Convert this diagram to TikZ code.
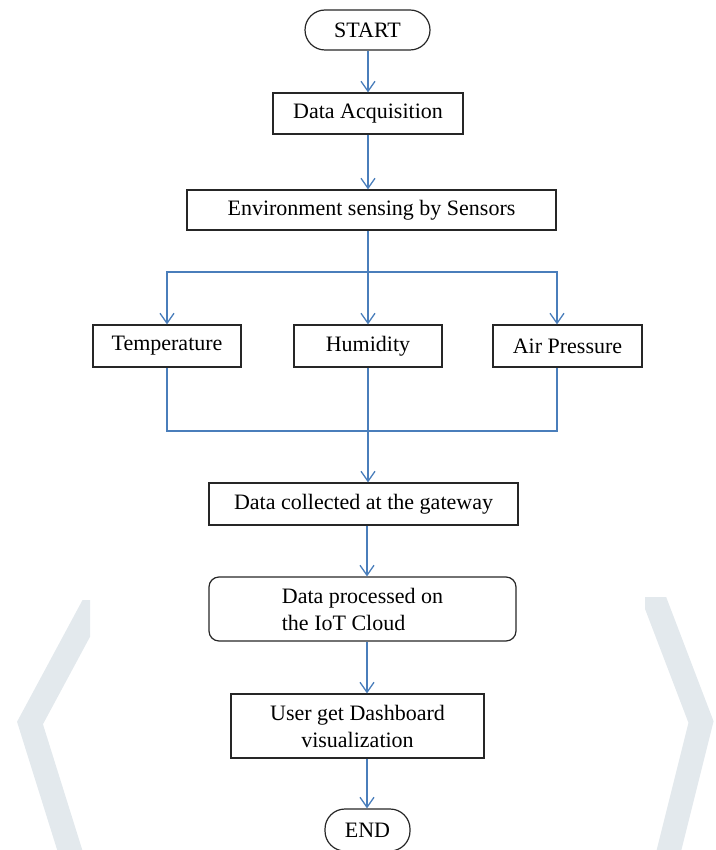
\documentclass[tikz,border=0pt]{standalone}
\usepackage{fontspec}
\setmainfont{Liberation Serif}
\usetikzlibrary{arrows.meta}
\definecolor{flowblue}{RGB}{74,126,187}
\definecolor{markgray}{RGB}{227,233,237}
\begin{document}
\begin{tikzpicture}[x=1pt,y=-1pt,
	box/.style={draw=black!85, line width=1.2pt, minimum height=41pt, inner sep=0pt, font=\fontsize{22}{27}\selectfont},
	term/.style={box, rounded corners=20pt},
	roundbox/.style={box, rounded corners=10pt},
	flow/.style={draw=flowblue, line width=1.3pt},
	arr/.style={flow, -{Straight Barb[length=10pt,width=14pt]}}]
	\useasboundingbox (0,0) rectangle (715,850);
	\clip (0,0) rectangle (715,850);
	% watermark in the margins
	\begin{scope}
	\clip (0,600) rectangle (90,850) (645,597) rectangle (715,850);
	\draw[markgray, line width=24pt] (108,578) -- (30,723) -- (76,870);
	\draw[markgray, line width=24pt] (643,570) -- (701,722) -- (664,870);
	\end{scope}
	% boxes
	\node[term, minimum width=125pt, minimum height=40pt] (start) at (367.5,30) {START};
	\node[box, minimum width=190pt] (acq) at (368,113.5) {Data Acquisition};
	\node[box, minimum width=369pt, minimum height=40pt] (env) at (371.5,210) {Environment sensing by Sensors};
	\node[box, minimum width=148pt, minimum height=42pt] (temp) at (167,346) {Temperature};
	\node[box, minimum width=148pt, minimum height=42pt] (hum) at (368,346) {Humidity};
	\node[box, minimum width=149pt, minimum height=42pt] (air) at (567.5,346) {Air Pressure};
	\node[box, minimum width=309pt, minimum height=42pt] (gate) at (363.5,504) {Data collected at the gateway};
	\node[roundbox, minimum width=307pt, minimum height=64pt, align=left] (cloud) at (362.5,609) {Data processed on\\the IoT Cloud};
	\node[box, minimum width=253pt, minimum height=64pt, align=center] (dash) at (357.5,726) {User get Dashboard\\visualization};
	\node[term, minimum width=85pt, minimum height=42pt] (stop) at (367.5,830) {END};
	% branch points
	\coordinate (split) at (368,272);
	\coordinate (join) at (368,431);
	\coordinate (spine) at (367,0);
	% connectors
	\draw[arr] (start.south -| split) -- (split |- acq.north);
	\draw[arr] (acq.south -| split) -- (split |- env.north);
	\draw[flow] (env.south -| split) -- (split);
	\draw[arr] (split) -| (temp.north);
	\draw[arr] (split) -- (hum.north);
	\draw[arr] (split) -| ([xshift=-10.5pt]air.north);
	\draw[flow] (temp.south) |- (join);
	\draw[flow] ([xshift=-10.5pt]air.south) |- (join);
	\draw[arr] (hum.south) -- (hum.south |- gate.north);
	\draw[arr] (gate.south -| spine) -- (spine |- cloud.north);
	\draw[arr] (cloud.south -| spine) -- (spine |- dash.north);
	\draw[arr] (dash.south -| spine) -- (spine |- stop.north);
\end{tikzpicture}
\end{document}
